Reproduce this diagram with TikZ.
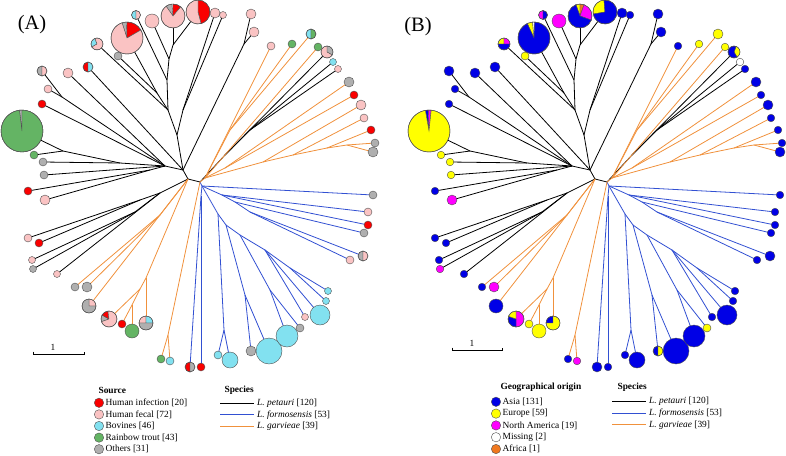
\documentclass[tikz,border=0pt]{standalone}
\usepackage{fontspec}
\setmainfont{Liberation Serif}
\definecolor{forc}{RGB}{50,80,210}
\definecolor{garc}{RGB}{240,145,60}
\definecolor{pielc}{RGB}{80,80,80}
\definecolor{hinf}{RGB}{250,0,0}
\definecolor{hfec}{RGB}{250,195,195}
\definecolor{bov}{RGB}{130,225,240}
\definecolor{trout}{RGB}{100,180,100}
\definecolor{oth}{RGB}{175,175,175}
\definecolor{asia}{RGB}{0,0,230}
\definecolor{euro}{RGB}{255,255,0}
\definecolor{namer}{RGB}{255,0,255}
\definecolor{miss}{RGB}{255,255,255}
\definecolor{afr}{RGB}{240,120,30}

\newcommand{\lactree}{%
\foreach \n/\x/\y in {C0/188/179, C1/200/182, AB/183/170, L0/165/166, L2/120/163, L3/63/151, L4/150/170, L5/62/97,
  U1/177/135, U2/168/110, U3/157/93, U4/167/80, U5/169/59, U6/173/45, U7/183/110, T1/244/44,
  D1/160/193, D2/140/200, D3/135/212, OL1/160/215, OL3/146/278, OL4/140/289, OL5/132/305, OL6/168/335,
  BL0/202/186, BD1/201/196, BR1/222/195, BR2/235/202, BR3/250/212, BM1/218/214, BM2/224/330, BM3/226/225,
  BM4/245/295, BM6/240/235, BM7/270/290, BM8/265/250, BM9/290/268, RB1/225/155, RB2/250/130,
  OR0/205/178, OR1/263/162, OR2/293/155, OR3/327/148, OR4/347/145, OR5/225/168, OU1/230/130,
  t01/136/15, t02/152/21, t03/173/16, t04/198/12, t05/215/13, t06/223/15, t07/251/14, t08/254/32,
  t09/127/38, t10/97/44, t11/118/56, t12/88/67, t13/68/73, t14/42/71, t15/48/89, t16/42/104,
  t17/22/131, t18/34/155, t19/43/162, t20/44/175, t21/28/191, t22/45/200, t23/28/238, t24/39/243,
  t25/32/260, t26/33/269, t27/57/274, t28/75/287, t29/87/287, t30/89/306, t31/109/319, t32/122/324,
  t33/132/331, t34/146/323, t35/161/359, t36/170/361, t37/190/367, t38/201/367, t39/218/355, t40/230/360,
  t41/251/351, t42/269/351, t43/287/336, t44/300/328, t45/305/317, t46/320/315, t47/326/301, t48/328/291,
  t49/350/260, t50/363/256, t51/364/233, t52/368/225, t53/368/212, t54/373/195, t55/373/152, t56/375/143,
  t57/371/130, t58/364/118, t59/361/105, t60/354/95, t61/349/82, t62/338/69, t63/333/62, t64/327/52,
  t65/318/47, t66/311/34, t67/292/44, t68/271/46}
  \coordinate (\n) at (\x,\y);
\foreach \a/\b in {C0/C1, C0/AB, AB/U1, U1/U2, U1/U7, U7/t05, U7/t06, U2/t10, U2/U3, U3/t09, U3/t11,
  U2/U4, U4/t01, U4/U5, U5/t02, U5/U6, U6/t03, U6/t04, AB/T1, T1/t07, T1/t08, AB/t12, AB/L0, L0/t13,
  L0/L5, L5/t14, L5/t15, L0/t16, L0/L2, L2/L3, L3/t17, L3/t18, L2/t19, L0/t20, L0/L4, L4/t21, L4/t22,
  C0/D1, D1/D2, D2/t23, D2/t24, D1/D3, D3/t25, D3/t26, D1/t27, C1/RB1, RB1/t64, RB1/RB2, RB2/t62, RB2/t63}
  \draw[petbr] (\a)--(\b);
\foreach \a/\b in {C1/BL0, BL0/BD1, BD1/t37, BD1/t38, BL0/t54, BL0/BR1, BR1/t53, BR1/t52, BR1/BR2,
  BR2/t51, BR2/BR3, BR3/t49, BR3/t50, BL0/BM1, BM1/BM2, BM2/t39, BM2/t40, BM1/BM3, BM3/BM4, BM4/t41,
  BM4/t42, BM3/BM6, BM6/BM7, BM7/t43, BM7/t44, BM6/BM8, BM8/t45, BM8/t46, BM8/BM9, BM9/t47, BM9/t48}
  \draw[forbr] (\a)--(\b);
\foreach \a/\b in {C0/OL1, OL1/t28, OL1/t29, C0/t30, C0/OL3, OL3/OL4, OL4/t31, OL4/OL5, OL5/t32,
  OL5/t33, OL3/t34, C1/OL6, OL6/t35, OL6/t36, C1/OR0, OR0/OR5, OR5/t61, OR5/t60, OR0/OR1, OR1/t59,
  OR1/OR2, OR2/t58, OR2/OR3, OR3/t57, OR3/OR4, OR4/t56, OR4/t55, OR0/t68, OR0/OU1, OU1/t67, OU1/t66, OR0/t65}
  \draw[garbr] (\a)--(\b);
}

\newcommand{\tippie}[3]{%
\foreach \c/\a/\b in {#3}
  \filldraw[pieline, fill=\c] (#1) -- ++(\a:#2) arc[start angle=\a, end angle=\b, radius=#2] -- cycle;
\draw[pieline] (#1) circle (#2);}

\begin{document}
\begin{tikzpicture}[x=1pt, y=-1pt, font=\fontsize{9.4}{11}\selectfont,
  petbr/.style={line width=.8pt, black},
  forbr/.style={line width=.8pt, forc},
  garbr/.style={line width=.8pt, garc},
  pieline/.style={draw=pielc, line width=.4pt}]
\useasboundingbox (0,0) rectangle (786,455);

% (A) source
\lactree
\foreach \t/\r/\c in {t02/7/hfec, t05/5/hfec, t06/3.5/hfec, t07/5/hfec, t08/5/hfec, t11/4/oth, t13/5/hfec,
  t15/4/hfec, t16/4/hinf, t18/4/trout, t19/4/oth, t20/4/oth, t21/4/hinf, t22/5/hfec, t23/4/hfec, t24/4/hinf,
  t25/3.5/hfec, t26/3.5/oth, t27/3.5/hfec, t28/4/oth, t29/5/oth, t32/4/hinf, t33/7/trout, t35/4/trout,
  t36/4/bov, t38/4/hinf, t39/4/bov, t40/8/bov, t41/5/oth, t42/13/bov, t43/11/bov, t44/4/oth, t45/3.5/hfec,
  t46/10/bov, t47/3.5/bov, t48/3.5/bov, t49/4/hfec, t51/4/oth, t52/4/hinf, t53/4/hfec, t54/4/oth, t55/5/oth,
  t56/4/oth, t57/4/hinf, t58/4/hfec, t59/5/hfec, t60/4/hinf, t61/5/oth, t62/3.5/hfec, t63/3.5/bov,
  t65/4/trout, t67/4/trout, t68/4/hfec}
  \draw[pieline, fill=\c] (\t) circle (\r);
\tippie{t01}{4.5}{bov/90/270, hfec/270/450}
\tippie{t03}{12}{oth/235/265, hinf/270/310, hfec/310/595}
\tippie{t04}{12}{hinf/270/435, hfec/75/270}
\tippie{t09}{16}{oth/252/268, hinf/270/330, hfec/330/612}
\tippie{t10}{6}{bov/150/250, hfec/250/510}
\tippie{t12}{5}{hinf/90/270, bov/270/450}
\tippie{t14}{5}{oth/90/270, hfec/270/450}
\tippie{t17}{21}{oth/263/270, trout/270/623}
\tippie{t30}{7}{hfec/270/360, oth/0/270}
\tippie{t31}{8}{oth/160/210, hinf/210/262, hfec/262/520}
\tippie{t34}{7}{hfec/180/270, bov/270/360, oth/0/180}
\tippie{t37}{5}{hinf/90/270, oth/270/450}
\tippie{t50}{5}{oth/90/270, hfec/270/450}
\tippie{t64}{6}{oth/270/390, hfec/30/270}
\tippie{t66}{5}{bov/90/270, trout/270/450}

\node[font=\fontsize{20.5}{24}\selectfont] (labA) at (32,25) {(A)};
\coordinate (sbA1) at (33,354);
\coordinate (sbA2) at (84,354);
\draw[line width=.6pt] ([yshift=2.5pt]sbA1)--(sbA1)--(sbA2)--([yshift=2.5pt]sbA2);
\node (sbAl) at (53,347) {1};

\node[anchor=west, font=\fontsize{9.4}{11}\selectfont\bfseries] (srcA) at (95,390) {Source};
\foreach \c/\t [count=\i] in {hinf/Human infection [20], hfec/Human fecal [72], bov/Bovines [46],
  trout/Rainbow trout [43], oth/Others [31]}
{
  \draw[pieline, fill=\c] (99,391.2+11.6*\i) circle (4.7);
  \node[anchor=west, inner sep=1pt] (srcA\i) at (104.5,391.2+11.6*\i) {\t};
}
\node[anchor=west, font=\fontsize{9.4}{11}\selectfont\bfseries] (spA) at (221,390) {Species};
\foreach \s/\t [count=\i] in {petbr/{\textit{L. petauri} [120]}, forbr/{\textit{L. formosensis} [53]},
  garbr/{\textit{L. garvieae} [39]}}
{
  \draw[\s] (220,391.2+11.8*\i)--(254,391.2+11.8*\i);
  \node[anchor=west, inner sep=1pt] (spA\i) at (256,391.2+11.8*\i) {\t};
}

% (B) geographical origin
\begin{scope}[xshift=407pt]
\lactree
\foreach \t/\r/\c in {t02/7/namer, t05/5/asia, t06/3.8/asia, t07/5/asia, t08/5/asia, t11/4/euro, t12/5/asia,
  t13/5/asia, t14/5/asia, t15/3.8/asia, t16/3.8/asia, t18/3.8/euro, t19/3.8/euro, t20/3.8/euro, t21/3.8/asia,
  t22/5/namer, t23/3.8/asia, t24/3.8/asia, t25/3.8/asia, t26/3.8/namer, t27/3.8/asia, t28/3.8/asia,
  t29/5/namer, t30/7/asia, t32/4/euro, t33/7/euro, t35/3.8/asia, t36/3.8/namer, t37/5/asia, t38/3.8/asia,
  t39/3.8/asia, t40/8/asia, t42/13/asia, t43/11/asia, t44/4/euro, t45/3.8/asia, t46/10/asia, t47/3.8/asia,
  t48/3.8/asia, t49/3.8/asia, t50/5/asia, t51/3.8/asia, t52/3.8/asia, t53/3.8/asia, t54/3.8/asia,
  t55/5/asia, t56/3.8/asia, t57/3.8/asia, t58/3.8/asia, t59/5/asia, t60/3.8/asia, t61/5/asia,
  t62/3.8/asia, t63/3.8/miss, t65/3.8/euro, t66/5/euro, t67/3.8/euro, t68/3.8/asia}
  \draw[pieline, fill=\c] (\t) circle (\r);
\tippie{t01}{4.5}{namer/90/270, asia/270/450}
\tippie{t03}{12}{euro/250/270, afr/270/290, namer/290/380, asia/20/250}
\tippie{t04}{12}{euro/170/265, asia/265/530}
\tippie{t09}{16}{euro/245/265, miss/265/272, asia/272/605}
\tippie{t10}{6}{euro/180/270, namer/270/360, asia/0/180}
\tippie{t17}{21}{asia/260/268, namer/268/276, euro/276/620}
\tippie{t31}{8}{namer/-90/90, asia/90/200, euro/200/270}
\tippie{t34}{7}{asia/180/270, euro/270/540}
\tippie{t41}{5}{asia/90/270, euro/270/450}
\tippie{t64}{6}{euro/290/420, asia/60/290}
\end{scope}

\node[font=\fontsize{20.5}{24}\selectfont] (labB) at (418,27) {(B)};
\coordinate (sbB1) at (452,350);
\coordinate (sbB2) at (502,350);
\draw[line width=.6pt] ([yshift=2.5pt]sbB1)--(sbB1)--(sbB2)--([yshift=2.5pt]sbB2);
\node (sbBl) at (472,343) {1};

\node[anchor=west, font=\fontsize{9.4}{11}\selectfont\bfseries] (geoB) at (497,387) {Geographical origin};
\foreach \c/\t [count=\i] in {asia/Asia [131], euro/Europe [59], namer/North America [19],
  miss/Missing [2], afr/Africa [1]}
{
  \draw[pieline, fill=\c] (496,390+11.8*\i) circle (4.7);
  \node[anchor=west, inner sep=1pt] (geoB\i) at (501.5,390+11.8*\i) {\t};
}
\node[anchor=west, font=\fontsize{9.4}{11}\selectfont\bfseries] (spB) at (614,387) {Species};
\foreach \s/\t [count=\i] in {petbr/{\textit{L. petauri} [120]}, forbr/{\textit{L. formosensis} [53]},
  garbr/{\textit{L. garvieae} [39]}}
{
  \draw[\s] (612,390+11.6*\i)--(646,390+11.6*\i);
  \node[anchor=west, inner sep=1pt] (spB\i) at (648,390+11.6*\i) {\t};
}
\end{tikzpicture}
\end{document}
